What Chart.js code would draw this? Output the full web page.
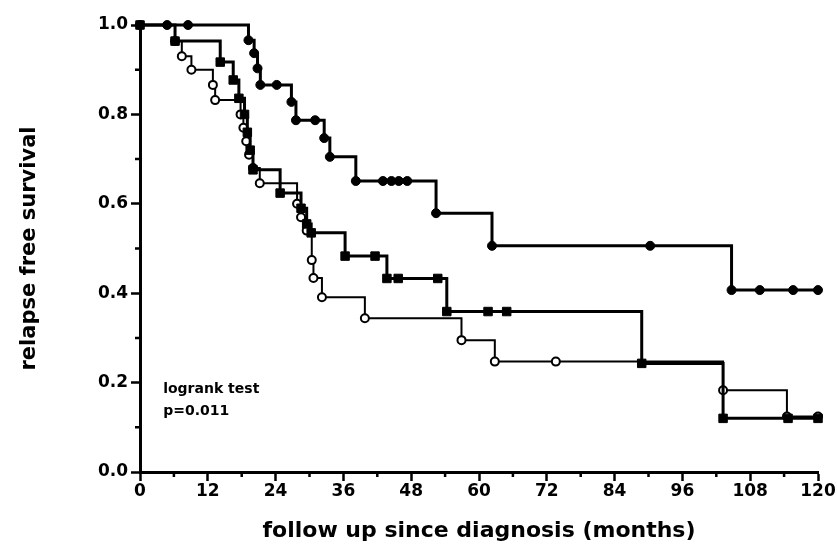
<!DOCTYPE html>
<html>
<head>
<meta charset="utf-8">
<script src="https://cdn.jsdelivr.net/npm/chart.js@4/dist/chart.umd.min.js"></script>
<style>
  html, body { margin: 0; padding: 0; background: #fff; }
  #wrap { width: 837px; height: 555px; }
</style>
</head>
<body>
<div id="wrap"><canvas id="kmChart"></canvas></div>
<script>
// ---- data (months, survival fraction) ----
// top curve: filled circles
const topMonths = [0, 4.8, 8.5, 19.2, 20.2, 20.8, 21.3, 24.2, 26.8, 27.6, 31.0, 32.6, 33.6, 38.2, 43.0, 44.5, 45.8, 47.3, 52.4, 62.3, 90.3, 104.7, 109.7, 115.6, 120];
const topSurv   = [1.0, 1.0, 1.0, 0.966, 0.937, 0.903, 0.866, 0.866, 0.828, 0.787, 0.787, 0.747, 0.705, 0.651, 0.651, 0.651, 0.651, 0.651, 0.579, 0.506, 0.506, 0.407, 0.407, 0.407, 0.407];

// middle curve: filled squares
const squareMonths = [0, 6.2, 14.2, 16.5, 17.5, 18.5, 19.0, 19.5, 20.0, 24.8, 28.5, 29.5, 30.3, 36.3, 41.6, 43.7, 45.7, 52.7, 54.3, 61.6, 64.9, 88.8, 103.2, 114.7, 120];
const squareSurv   = [1.0, 0.964, 0.917, 0.877, 0.836, 0.80, 0.76, 0.72, 0.676, 0.624, 0.59, 0.555, 0.535, 0.483, 0.483, 0.433, 0.433, 0.433, 0.359, 0.359, 0.359, 0.243, 0.12, 0.12, 0.12];

// bottom curve: open circles
const circleMonths = [0, 6.2, 7.4, 9.1, 12.9, 13.3, 17.8, 18.3, 18.8, 19.3, 20.0, 21.2, 27.8, 28.5, 29.5, 30.4, 30.7, 32.2, 39.8, 56.9, 62.8, 73.6, 103.2, 114.5, 120];
const circleSurv   = [1.0, 0.964, 0.93, 0.90, 0.866, 0.832, 0.80, 0.77, 0.74, 0.71, 0.68, 0.646, 0.60, 0.57, 0.54, 0.474, 0.434, 0.391, 0.344, 0.295, 0.247, 0.247, 0.183, 0.124, 0.124];

// axis ticks
const xTicks = [0, 12, 24, 36, 48, 60, 72, 84, 96, 108, 120];
const yTicks = [0.0, 0.2, 0.4, 0.6, 0.8, 1.0];

// annotation
const noteLines = ["logrank test", "p=0.011"];
const noteAt = { x: 4.1, y: 0.2 };

const FONT = "'DejaVu Sans', Verdana, sans-serif";

function toPoints(xs, ys) {
  return xs.map((x, i) => ({ x: x, y: ys[i] }));
}

// minor ticks halfway between the major ones + the text box
const extrasPlugin = {
  id: "extras",
  afterDraw(chart) {
    const ctx = chart.ctx;
    const xs = chart.scales.x, ys = chart.scales.y;
    const area = chart.chartArea;
    ctx.save();
    ctx.strokeStyle = "#000";
    ctx.lineWidth = 2.5;
    ctx.beginPath();
    for (let i = 0; i < xTicks.length - 1; i++) {
      const px = xs.getPixelForValue((xTicks[i] + xTicks[i + 1]) / 2);
      ctx.moveTo(px, area.bottom);
      ctx.lineTo(px, area.bottom + 5);
    }
    for (let i = 0; i < yTicks.length - 1; i++) {
      const py = ys.getPixelForValue((yTicks[i] + yTicks[i + 1]) / 2);
      ctx.moveTo(area.left, py);
      ctx.lineTo(area.left - 5, py);
    }
    ctx.stroke();

    ctx.fillStyle = "#000";
    ctx.font = "bold 14px " + FONT;
    ctx.textAlign = "left";
    ctx.textBaseline = "top";
    const nx = xs.getPixelForValue(noteAt.x);
    const ny = ys.getPixelForValue(noteAt.y);
    noteLines.forEach((t, i) => ctx.fillText(t, nx, ny + i * 22));
    ctx.restore();
  }
};

const ctx = document.getElementById("kmChart").getContext("2d");

new Chart(ctx, {
  type: "line",
  data: {
    datasets: [
      {
        label: "filled circles",
        data: toPoints(topMonths, topSurv),
        stepped: true,
        borderColor: "#000",
        borderWidth: 3,
        pointStyle: "circle",
        pointRadius: 4.5,
        pointBackgroundColor: "#000",
        pointBorderColor: "#000",
        pointBorderWidth: 1,
        fill: false,
        clip: false
      },
      {
        label: "filled squares",
        data: toPoints(squareMonths, squareSurv),
        stepped: true,
        borderColor: "#000",
        borderWidth: 3,
        pointStyle: "rect",
        pointRadius: 6,
        pointBackgroundColor: "#000",
        pointBorderColor: "#000",
        pointBorderWidth: 1,
        fill: false,
        clip: false
      },
      {
        label: "open circles",
        data: toPoints(circleMonths, circleSurv),
        stepped: true,
        borderColor: "#000",
        borderWidth: 2,
        pointStyle: "circle",
        pointRadius: 4,
        pointBackgroundColor: "#fff",
        pointBorderColor: "#000",
        pointBorderWidth: 2,
        fill: false,
        clip: false
      }
    ]
  },
  options: {
    responsive: true,
    maintainAspectRatio: false,
    animation: false,
    layout: { padding: { top: 25, right: 19, left: 0, bottom: 0 } },
    plugins: {
      legend: { display: false },
      tooltip: { enabled: false }
    },
    scales: {
      x: {
        type: "linear",
        min: 0,
        max: 120,
        afterBuildTicks: (scale) => { scale.ticks = xTicks.map(v => ({ value: v })); },
        afterFit: (scale) => { scale.height = 83; },
        grid: { drawOnChartArea: false, drawTicks: true, tickLength: 9, tickWidth: 2.5, tickColor: "#000" },
        border: { display: true, color: "#000", width: 3 },
        ticks: {
          color: "#000",
          padding: 0,
          maxRotation: 0,
          font: { family: FONT, size: 17, weight: "bold" }
        },
        title: {
          display: true,
          text: "follow up since diagnosis (months)",
          color: "#000",
          padding: { top: 4, bottom: 11 },
          font: { family: FONT, size: 22, weight: "bold" }
        }
      },
      y: {
        type: "linear",
        min: 0,
        max: 1,
        afterBuildTicks: (scale) => { scale.ticks = yTicks.map(v => ({ value: v })); },
        afterFit: (scale) => { scale.width = 140; },
        grid: { drawOnChartArea: false, drawTicks: true, tickLength: 9, tickWidth: 2.5, tickColor: "#000" },
        border: { display: true, color: "#000", width: 3 },
        ticks: {
          color: "#000",
          padding: 3,
          callback: (v) => Number(v).toFixed(1),
          font: { family: FONT, size: 17, weight: "bold" }
        },
        title: {
          display: true,
          text: "relapse free survival",
          color: "#000",
          padding: { top: 17, bottom: 0 },
          font: { family: FONT, size: 21, weight: "bold" }
        }
      }
    }
  },
  plugins: [extrasPlugin]
});
</script>
</body>
</html>
